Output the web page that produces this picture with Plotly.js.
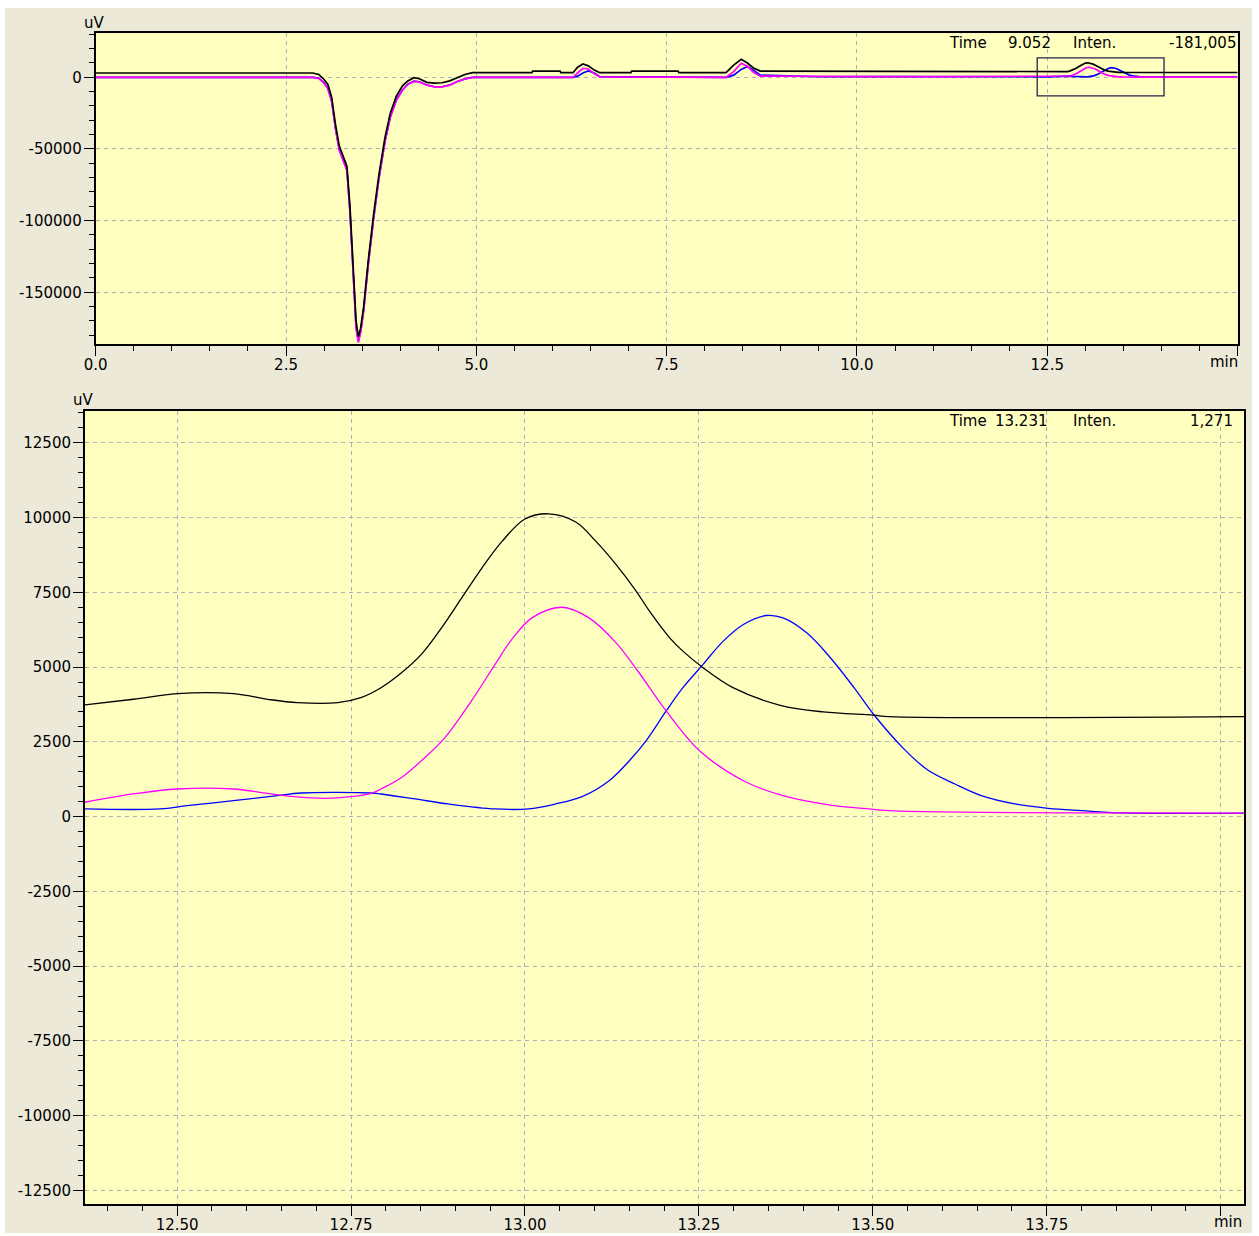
<!DOCTYPE html>
<html>
<head>
<meta charset="utf-8">
<script src="https://cdn.plot.ly/plotly-3.0.1.min.js"></script>
<style>
html,body{margin:0;padding:0;background:#ffffff;}
#chart{width:1259px;height:1236px;}
</style>
</head>
<body>
<div id="chart"></div>
<script>
// ---------- Overview (full run) data, 0 - 12.3 min ----------
const topPreTime = [0, 2.85, 2.93, 3.0, 3.05, 3.1, 3.15, 3.2, 3.25, 3.3, 3.34, 3.38, 3.42, 3.45, 3.48, 3.52, 3.58, 3.65, 3.72, 3.8, 3.87, 3.95, 4.03, 4.1, 4.18, 4.25, 4.35, 4.45, 4.55, 4.65, 4.75, 4.85, 4.95, 5.73, 5.74, 6.10, 6.11, 6.27, 6.33, 6.40, 6.47, 6.55, 6.62, 7.03, 7.04, 7.65, 7.66, 8.28, 8.38, 8.48, 8.56, 8.64, 8.73, 9.5, 10.5, 11.1, 12.3];
const topPreBlack = [3000, 3000, 2000, -1500, -5000, -14000, -33000, -48000, -55000, -62000, -90000, -135000, -170000, -181000, -175000, -160000, -128000, -96000, -68000, -42000, -25000, -13000, -6000, -2500, -300, -1000, -3500, -4000, -3800, -2500, 0, 2000, 3200, 3200, 4300, 4300, 3200, 3200, 7000, 9300, 8000, 5000, 3200, 3200, 4300, 4300, 3200, 3200, 8500, 12500, 10000, 6500, 4300, 4200, 4100, 4000, 3700];
const topPreMagenta = [0, 0, -700, -4000, -8000, -17000, -36000, -51000, -58000, -65000, -94000, -139000, -175000, -185000, -178000, -163000, -131000, -99000, -71000, -45000, -28000, -16000, -9000, -5000, -2800, -3200, -5500, -6700, -6700, -5500, -3000, -1200, 0, 0, 0, 0, 0, 0, 3000, 6300, 5800, 2500, 300, 300, 300, 300, 0, 0, 4000, 9800, 7800, 3500, 800, 500, 450, 450, 450];
const topPreBlue = [0, 0, -600, -3800, -7800, -16500, -35500, -50500, -57500, -64500, -93500, -138000, -174000, -184000, -177500, -162500, -130500, -98500, -70500, -44500, -27500, -15500, -8800, -4800, -2700, -3100, -5400, -6600, -6600, -5400, -2900, -1100, 0, 0, 0, 0, 0, 0, 800, 3000, 4500, 3000, 500, 300, 300, 300, 0, 0, 1500, 5500, 7500, 5000, 1500, 400, 500, 300, 250];

// ---------- Overview tail, 14.1 - 15 min ----------
const topPostTime = [14.1, 15.0];
const topPostBlack = [3340, 3340];
const topPostMagenta = [120, 120];
const topPostBlue = [120, 120];

// ---------- Zoomed window data (12.37 - 14.04 min) ----------
const lowTimeBlack = [12.367, 12.437, 12.500, 12.581, 12.630, 12.673, 12.731, 12.764, 12.793, 12.822, 12.851, 12.880, 12.909, 12.938, 12.967, 13.000, 13.034, 13.073, 13.102, 13.131, 13.160, 13.179, 13.208, 13.227, 13.256, 13.299, 13.367, 13.429, 13.501, 13.523, 14.036];
const lowBlack = [3733, 3923, 4110, 4110, 3923, 3810, 3810, 3977, 4310, 4800, 5423, 6310, 7310, 8310, 9200, 9950, 10123, 9850, 9200, 8423, 7533, 6867, 5977, 5533, 4977, 4310, 3723, 3500, 3390, 3340, 3340];

const lowTimeMagenta = [12.367, 12.437, 12.500, 12.581, 12.630, 12.668, 12.711, 12.750, 12.779, 12.793, 12.822, 12.855, 12.885, 12.923, 12.957, 12.981, 13.010, 13.053, 13.092, 13.131, 13.164, 13.203, 13.251, 13.314, 13.371, 13.444, 13.486, 13.523, 13.660, 13.860, 14.036];
const lowMagenta = [477, 757, 923, 923, 777, 667, 610, 667, 777, 923, 1300, 1950, 2643, 3867, 5090, 5923, 6643, 7000, 6643, 5810, 4810, 3533, 2200, 1200, 700, 367, 277, 200, 143, 123, 120];

const lowTimeBlue = [12.367, 12.475, 12.514, 12.581, 12.644, 12.678, 12.779, 12.793, 12.842, 12.890, 12.957, 13.005, 13.044, 13.082, 13.121, 13.150, 13.174, 13.203, 13.227, 13.256, 13.285, 13.314, 13.347, 13.371, 13.405, 13.439, 13.473, 13.501, 13.545, 13.579, 13.618, 13.656, 13.704, 13.752, 13.800, 13.858, 14.036];
const lowBlue = [257, 257, 367, 533, 700, 790, 790, 757, 590, 423, 257, 257, 423, 667, 1200, 1867, 2533, 3533, 4310, 5090, 5867, 6423, 6723, 6643, 6143, 5310, 4310, 3423, 2257, 1557, 1090, 700, 423, 277, 200, 123, 120];

// ---------- Tick labels ----------
const topXTickVals = [0, 2.5, 5, 7.5, 10, 12.5, 15];
const topXTickText = ['0.0', '2.5', '5.0', '7.5', '10.0', '12.5', ''];
const topYTickVals = [0, -50000, -100000, -150000];
const topYTickText = ['0', '-50000', '-100000', '-150000'];
const lowXTickVals = [12.5, 12.75, 13.0, 13.25, 13.5, 13.75, 14.0];
const lowXTickText = ['12.50', '12.75', '13.00', '13.25', '13.50', '13.75', ''];
const lowYTickVals = [12500, 10000, 7500, 5000, 2500, 0, -2500, -5000, -7500, -10000, -12500];
const lowYTickText = ['12500', '10000', '7500', '5000', '2500', '0', '-2500', '-5000', '-7500', '-10000', '-12500'];

// ---------- Header readouts ----------
const topReadout = {time: '9.052', inten: '-181,005'};
const lowReadout = {time: '13.231', inten: '1,271'};

// ---------- styling ----------
const W = 1259, H = 1236;
const px = x => x / W;
const py = y => 1 - y / H;
const FONT = 'DejaVu Sans, Verdana, sans-serif';
const colBlack = '#000000', colMag = '#FF00FF', colBlue = '#0000FF';
const gridCol = '#B0B0B8';

const traces = [];
function addTop(name, t, v, color) {
  traces.push({x: t, y: v, xaxis: 'x', yaxis: 'y', type: 'scatter', mode: 'lines',
    line: {color: color, width: 1.7}, hoverinfo: 'skip', showlegend: false, name: name});
}
addTop('blue', topPreTime.concat(lowTimeBlue, topPostTime), topPreBlue.concat(lowBlue, topPostBlue), colBlue);
addTop('magenta', topPreTime.concat(lowTimeMagenta, topPostTime), topPreMagenta.concat(lowMagenta, topPostMagenta), colMag);
addTop('black', topPreTime.concat(lowTimeBlack, topPostTime), topPreBlack.concat(lowBlack, topPostBlack), colBlack);

function addLow(name, t, v, color) {
  traces.push({x: t, y: v, xaxis: 'x2', yaxis: 'y2', type: 'scatter', mode: 'lines',
    line: {color: color, width: 1.3, shape: 'spline', smoothing: 1.0}, hoverinfo: 'skip', showlegend: false, name: name});
}
addLow('blue', lowTimeBlue, lowBlue, colBlue);
addLow('magenta', lowTimeMagenta, lowMagenta, colMag);
addLow('black', lowTimeBlack, lowBlack, colBlack);

const tickFont = {family: FONT, size: 15, color: '#000'};
function axisBase() {
  return {showline: true, linecolor: '#000', linewidth: 2, mirror: true,
    ticks: 'outside', ticklen: 10, tickwidth: 1, tickcolor: '#000',
    showgrid: true, gridcolor: gridCol, griddash: '4px,4px', gridwidth: 1,
    zeroline: false, tickfont: tickFont, fixedrange: true};
}

const lowXMin = 12.3675, lowXMax = 14.0336, lowYMin = -12950, lowYMax = 13560;

const layout = {
  width: W, height: H,
  margin: {l: 0, r: 0, t: 0, b: 0},
  paper_bgcolor: '#ECE9D8',
  plot_bgcolor: '#FFFFC0',
  showlegend: false,
  xaxis: Object.assign(axisBase(), {
    domain: [px(95.7), px(1237.6)], range: [0, 15], anchor: 'y',
    tickmode: 'array', tickvals: topXTickVals, ticktext: topXTickText, ticklabelstandoff: -4,
    minor: {tickmode: 'linear', tick0: 0, dtick: 0.5, ticks: 'outside', ticklen: 5, tickcolor: '#000', showgrid: false}
  }),
  yaxis: Object.assign(axisBase(), {
    domain: [py(344.3), py(33.3)], range: [-186270, 30700], anchor: 'x',
    tickmode: 'array', tickvals: topYTickVals, ticktext: topYTickText, ticklabelstandoff: -1,
    minor: {tickmode: 'linear', tick0: 0, dtick: 10000, ticks: 'outside', ticklen: 5, tickcolor: '#000', showgrid: false}
  }),
  xaxis2: Object.assign(axisBase(), {
    domain: [px(85), px(1244)], range: [lowXMin, lowXMax], anchor: 'y2',
    tickmode: 'array', tickvals: lowXTickVals, ticktext: lowXTickText, ticklabelstandoff: -4,
    minor: {tickmode: 'linear', tick0: 12.5, dtick: 0.05, ticks: 'outside', ticklen: 5, tickcolor: '#000', showgrid: false}
  }),
  yaxis2: Object.assign(axisBase(), {
    domain: [py(1204), py(411)], range: [lowYMin, lowYMax], anchor: 'x2',
    tickmode: 'array', tickvals: lowYTickVals, ticktext: lowYTickText, ticklabelstandoff: -1,
    minor: {tickmode: 'linear', tick0: 0, dtick: 500, ticks: 'outside', ticklen: 5, tickcolor: '#000', showgrid: false}
  }),
  shapes: [
    {type: 'rect', xref: 'paper', yref: 'paper', x0: 0, x1: px(5), y0: 0, y1: 1, fillcolor: '#ffffff', line: {width: 0}, layer: 'below'},
    {type: 'rect', xref: 'paper', yref: 'paper', x0: 0, x1: 1, y0: py(8), y1: 1, fillcolor: '#ffffff', line: {width: 0}, layer: 'below'},
    {type: 'rect', xref: 'paper', yref: 'paper', x0: px(1252), x1: 1, y0: 0, y1: 1, fillcolor: '#ffffff', line: {width: 0}, layer: 'below'},
    {type: 'rect', xref: 'paper', yref: 'paper', x0: 0, x1: 1, y0: 0, y1: py(1233), fillcolor: '#ffffff', line: {width: 0}, layer: 'below'},
    {type: 'rect', xref: 'x', yref: 'y', x0: lowXMin, x1: lowXMax, y0: lowYMin, y1: lowYMax,
      line: {color: '#22224E', width: 1.3}, fillcolor: 'rgba(0,0,0,0)', layer: 'above'}
  ],
  annotations: [
    {text: 'uV', xref: 'paper', yref: 'paper', x: px(94), y: py(23), showarrow: false, xanchor: 'center', yanchor: 'middle', font: tickFont},
    {text: 'min', xref: 'paper', yref: 'paper', x: px(1240), y: py(362), showarrow: false, xanchor: 'right', yanchor: 'middle', font: tickFont},
    {text: 'Time', xref: 'paper', yref: 'paper', x: px(947), y: py(43), showarrow: false, xanchor: 'left', yanchor: 'middle', font: tickFont},
    {text: topReadout.time, xref: 'paper', yref: 'paper', x: px(1053), y: py(43), showarrow: false, xanchor: 'right', yanchor: 'middle', font: tickFont},
    {text: 'Inten.', xref: 'paper', yref: 'paper', x: px(1071), y: py(43), showarrow: false, xanchor: 'left', yanchor: 'middle', font: tickFont},
    {text: topReadout.inten, xref: 'paper', yref: 'paper', x: px(1238), y: py(43), showarrow: false, xanchor: 'right', yanchor: 'middle', font: tickFont},

    {text: 'uV', xref: 'paper', yref: 'paper', x: px(84), y: py(400), showarrow: false, xanchor: 'center', yanchor: 'middle', font: tickFont},
    {text: 'min', xref: 'paper', yref: 'paper', x: px(1244), y: py(1222), showarrow: false, xanchor: 'right', yanchor: 'middle', font: tickFont},
    {text: 'Time', xref: 'paper', yref: 'paper', x: px(947), y: py(421), showarrow: false, xanchor: 'left', yanchor: 'middle', font: tickFont},
    {text: lowReadout.time, xref: 'paper', yref: 'paper', x: px(1050), y: py(421), showarrow: false, xanchor: 'right', yanchor: 'middle', font: tickFont},
    {text: 'Inten.', xref: 'paper', yref: 'paper', x: px(1071), y: py(421), showarrow: false, xanchor: 'left', yanchor: 'middle', font: tickFont},
    {text: lowReadout.inten, xref: 'paper', yref: 'paper', x: px(1235), y: py(421), showarrow: false, xanchor: 'right', yanchor: 'middle', font: tickFont}
  ]
};

Plotly.newPlot('chart', traces, layout, {staticPlot: true, displayModeBar: false});
</script>
</body>
</html>
